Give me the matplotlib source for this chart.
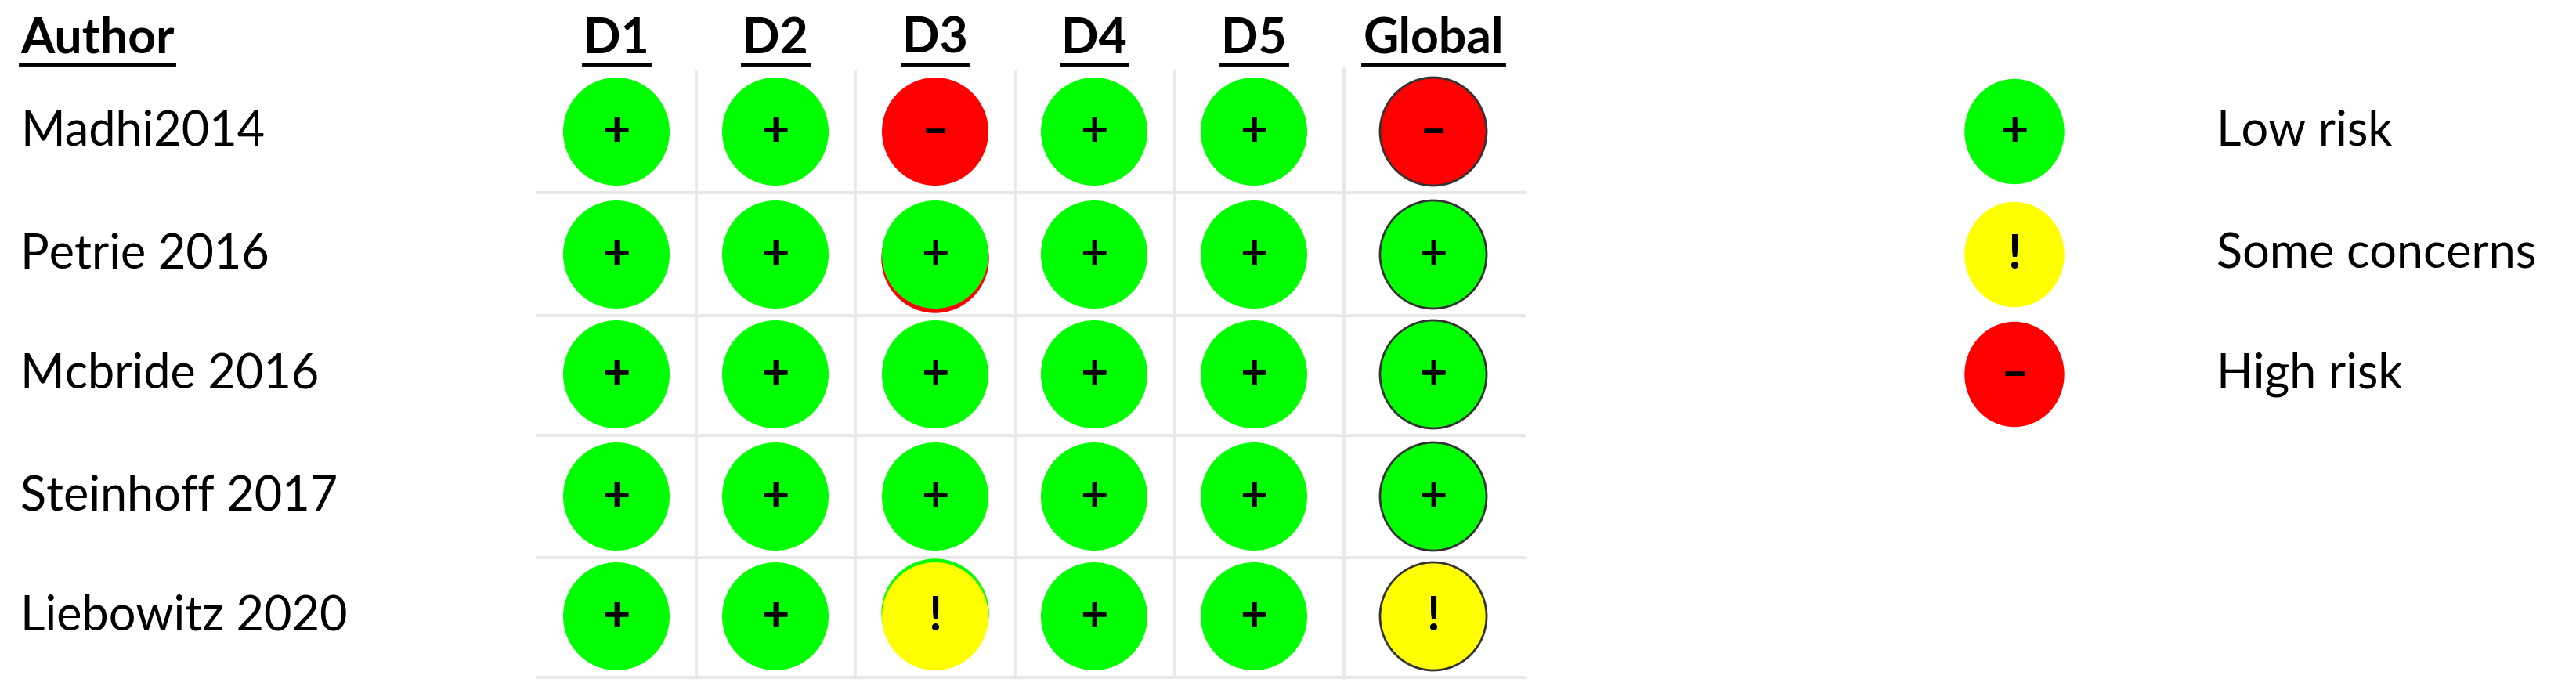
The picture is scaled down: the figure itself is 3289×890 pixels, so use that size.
import matplotlib.pyplot as plt
from matplotlib.patches import Ellipse

authors = ["Madhi2014", "Petrie 2016", "Mcbride 2016", "Steinhoff 2017", "Liebowitz 2020"]
domains = ["D1", "D2", "D3", "D4", "D5", "Global"]
# L = low, S = some concerns, H = high
judgements = [
    ["L", "L", "H", "L", "L", "H"],
    ["L", "L", "L", "L", "L", "L"],
    ["L", "L", "L", "L", "L", "L"],
    ["L", "L", "L", "L", "L", "L"],
    ["L", "L", "S", "L", "L", "S"],
]
# cells where a second judgement peeks out under the main one (row, col, level, dy)
underlays = [(1, 2, "H", 5), (4, 2, "L", -4)]
levels = ["L", "S", "H"]
level_names = ["Low risk", "Some concerns", "High risk"]
colors = {"L": "#00ff00", "S": "#ffff00", "H": "#ff0000"}
symbols = {"L": "+", "S": "!", "H": "\u2013"}

plt.rcParams['font.family'] = ['Lato', 'DejaVu Sans']

W, H = 3289, 890
fig = plt.figure(figsize=(W / 100, H / 100), dpi=100)
ax = fig.add_axes([0, 0, 1, 1])
ax.set_xlim(0, W)
ax.set_ylim(H, 0)
ax.axis('off')

col_x = [787, 990, 1194, 1397, 1601, 1830]
row_y = [168, 325, 478, 634, 787]
grid_left, grid_right = 686, 1947
ew, eh = 136, 138

# grid lines
for i in range(len(row_y)):
    yl = row_y[i] + 78
    ax.plot([grid_left, grid_right], [yl, yl], color='#e8e8e8', lw=3, zorder=0)
for j in range(len(col_x) - 1):
    xl = (col_x[j] + col_x[j + 1]) / 2
    ax.plot([xl, xl], [row_y[0] - 78, row_y[-1] + 78], color='#e8e8e8',
            lw=4 if j == len(col_x) - 2 else 2, zorder=0)


def header(x, y, s, ha):
    t = ax.text(x, y, s, ha=ha, va='baseline', fontsize=45, fontweight='bold')
    fig.canvas.draw()
    bb = t.get_window_extent().transformed(ax.transData.inverted())
    x0, x1 = min(bb.x0, bb.x1), max(bb.x0, bb.x1)
    ax.plot([x0, x1], [y + 14, y + 14], color='black', lw=3.5)


header(26, 68, "Author", 'left')
for j, d in enumerate(domains):
    header(col_x[j], 68, d, 'center')

for i, a in enumerate(authors):
    ax.text(26, row_y[i], a, ha='left', va='center', fontsize=44)

for (i, j, lev, dy) in underlays:
    ax.add_patch(Ellipse((col_x[j], row_y[i] + dy), ew, eh, color=colors[lev], zorder=1))

for i in range(len(authors)):
    for j in range(len(domains)):
        lev = judgements[i][j]
        edge = '#333333' if domains[j] == "Global" else 'none'
        ax.add_patch(Ellipse((col_x[j], row_y[i]), ew, eh, facecolor=colors[lev],
                             edgecolor=edge, lw=2, zorder=2))
        ax.text(col_x[j], row_y[i], symbols[lev], ha='center', va='center',
                fontsize=44, fontweight='bold', zorder=3)

# legend
for k, lev in enumerate(levels):
    y = row_y[k]
    ax.add_patch(Ellipse((2572, y), ew - 10, eh - 5, color=colors[lev], zorder=2))
    ax.text(2572, y, symbols[lev], ha='center', va='center', fontsize=44,
            fontweight='bold', zorder=3)
    ax.text(2830, y, level_names[k], ha='left', va='center', fontsize=44)

fig.savefig('out.png', dpi=100)
